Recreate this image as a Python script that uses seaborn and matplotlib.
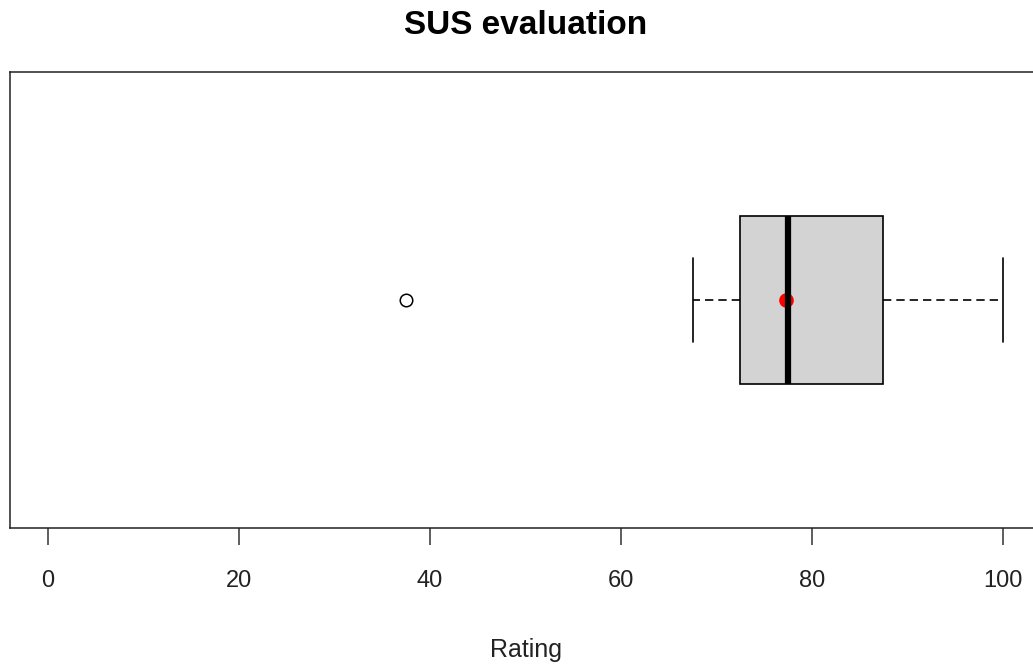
import matplotlib
matplotlib.use("Agg")
import matplotlib.pyplot as plt
import seaborn as sns
import numpy as np

# SUS ratings (Q1=72.5, median=77.5, Q3=87.5, whiskers 67.5/100, outlier 37.5, mean ~77.3)
ratings = [37.5, 67.5, 72.5, 72.5, 75.0, 77.5, 77.5, 87.5, 87.5, 95.0, 100.0]
x_ticks = [0, 20, 40, 60, 80, 100]
title = "SUS evaluation"
xlabel = "Rating"

sns.set_style("white")
plt.rcParams["font.family"] = ["Liberation Sans", "DejaVu Sans"]

fig = plt.figure(figsize=(10.33, 6.65), dpi=100)
W, H = 1033, 665
ax = fig.add_axes([10 / W, (H - 528) / H, (1041 - 10) / W, (528 - 72) / H])

sns.boxplot(
    x=ratings, orient="h", ax=ax, width=0.4, color="#D3D3D3", saturation=1,
    linecolor="black", linewidth=1.2, whis=1.5, fliersize=9,
    medianprops=dict(color="black", linewidth=4.5, solid_capstyle="butt"),
    whiskerprops=dict(color="black", linewidth=1.2, linestyle=(0, (5, 3))),
    capprops=dict(color="black", linewidth=1.2),
    flierprops=dict(marker="o", markerfacecolor="white", markeredgecolor="black",
                    markeredgewidth=1.1),
)

# shorten caps to half the box height (R style)
for ln in ax.lines:
    yd = np.asarray(ln.get_ydata(), dtype=float)
    xd = np.asarray(ln.get_xdata(), dtype=float)
    if len(xd) == 2 and xd[0] == xd[1] and abs(yd[1] - yd[0]) < 0.39 and ln.get_linestyle() == "-" and ln.get_linewidth() < 2:
        c = (yd[0] + yd[1]) / 2
        ln.set_ydata([c - 0.1, c + 0.1])

sns.pointplot(x=ratings, orient="h", ax=ax, estimator="mean", errorbar=None,
              color="red", markers="o", markersize=8.5, linestyles="none")

ax.set_xlim(-4, 104)
ax.set_ylim(0.54, -0.54)
ax.set_yticks([])
ax.set_xticks(x_ticks)
ax.set_xticklabels([str(t) for t in x_ticks])
ax.tick_params(axis="x", direction="out", length=12, width=1.1, color="#333333",
               pad=18, labelsize=17, labelcolor="#222222", bottom=True)
for s in ax.spines.values():
    s.set_visible(True)
    s.set_color("#222222")
    s.set_linewidth(1.1)

ax.set_title(title, fontsize=24, fontweight="bold", pad=27, color="black")
ax.set_xlabel(xlabel, fontsize=18, labelpad=33, color="#222222")

fig.savefig("out.png", dpi=100)
